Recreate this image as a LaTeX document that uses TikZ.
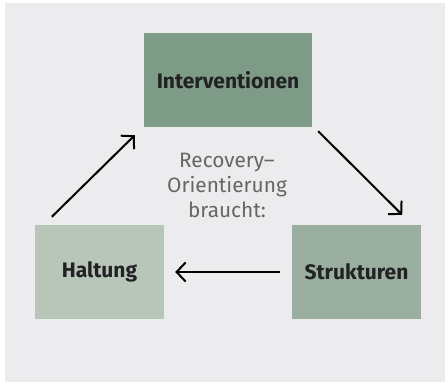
\documentclass[tikz,border=0pt]{standalone}
\usepackage{fontspec}
\setmainfont{Fira Sans}
\usetikzlibrary{arrows.meta}
\definecolor{bggray}{RGB}{236,236,238}
\definecolor{intervgreen}{RGB}{125,155,135}
\definecolor{strukgreen}{RGB}{154,175,160}
\definecolor{haltgreen}{RGB}{184,198,186}
\definecolor{boxtext}{RGB}{34,34,34}
\definecolor{midtext}{RGB}{102,102,102}
\tikzset{
  fieldbox/.style={minimum width=129pt, minimum height=94pt, inner sep=0pt,
    font=\fontsize{21}{24}\selectfont\bfseries, text=boxtext},
  cyclearrow/.style={line width=2pt, -{Straight Barb[length=9pt,width=19pt]}}
}
\begin{document}
\begin{tikzpicture}[x=1pt,y=-1pt]
      \useasboundingbox (0,0) rectangle (445,382);
      \fill[color=bggray](5,3)rectangle(445,382);
      \node[fieldbox, fill=intervgreen, minimum width=168pt] (interv) at (228,80) {Interventionen};
      \node[fieldbox, fill=haltgreen] (halt) at (99.5,272) {Haltung};
      \node[fieldbox, fill=strukgreen] (struk) at (356.5,272) {Strukturen};
      \node[font=\fontsize{20.8}{25}\selectfont, text=midtext, align=center] (ziel) at (227,185)
        {Recovery–\\Orientierung\\braucht:};
      \draw[cyclearrow] ([shift={(17,-8)}]halt.north west) -- ([shift={(-9,8)}]interv.south west);
      \draw[cyclearrow] ([shift={(6,4)}]interv.south east) -- ([shift={(-19,-10)}]struk.north east);
      \draw[cyclearrow] ([xshift=-12pt]struk.west) -- ([xshift=11pt]halt.east);
    \end{tikzpicture}
\end{document}
